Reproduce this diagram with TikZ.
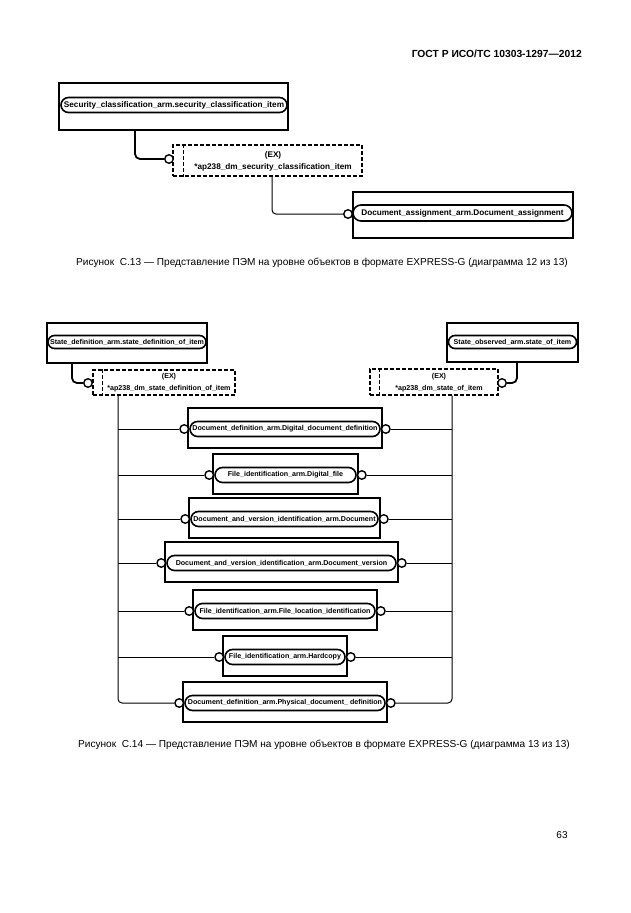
\documentclass[tikz,border=0pt]{standalone}
\usepackage{fontspec}
\setmainfont{Liberation Sans}
\usetikzlibrary{shapes.misc}
\newcommand{\fbig}{\fontsize{8.2}{9}\selectfont\bfseries}
\newcommand{\fsmall}{\fontsize{7.1}{8}\selectfont\bfseries}
\begin{document}
\begin{tikzpicture}[x=1pt,y=-1pt,
  entbox/.style={draw, line width=1.3pt, rectangle, inner sep=0pt},
  pill/.style={draw, rounded rectangle, line width=1.6pt, inner sep=1pt, fill=white},
  exbox/.style={draw, dashed, dash pattern=on 4pt off 2pt, line width=1.3pt, rectangle, inner sep=0pt},
  exline/.style={dashed, dash pattern=on 4pt off 2pt, line width=1.1pt},
  dot/.style={circle, draw, fill=white, line width=1.4pt, minimum size=8.5pt, inner sep=0pt},
  heavy/.style={line width=1.8pt, rounded corners=5pt},
  lite/.style={line width=1pt, rounded corners=4pt},
  txt/.style={inner sep=0pt},
  captext/.style={inner sep=0pt, font=\fontsize{10.1}{12}\selectfont}]
\useasboundingbox (0,0) rectangle (630,913);
\fill[white] (0,0) rectangle (630,913);

% header
\node[txt, anchor=east, font=\fontsize{10.3}{12}\selectfont\bfseries] (hdr) at (582,54) {ГОСТ Р ИСО/ТС 10303-1297—2012};

% ---------- Figure C.13 ----------
\node[entbox, minimum width=229pt, minimum height=47pt] (b1) at (173.5,106.5) {};
\node[pill, minimum width=228pt, minimum height=15pt, font=\fbig] (p1) at (174,105) {Security\_classification\_arm.security\_classification\_item};
\node[exbox, minimum width=189pt, minimum height=31pt] (e1) at (267.5,160.5) {};
\draw[exline] ([xshift=11pt]e1.north west) -- ([xshift=11pt]e1.south west);
\node[txt, font=\fbig] (e1a) at (273,155) {(EX)};
\node[txt, font=\fbig] (e1b) at (273,167) {*ap238\_dm\_security\_classification\_item};
\node[dot] (c1) at (169,159) {};
\draw[heavy] ([xshift=-38.5pt]b1.south) |- (c1.west);

\node[entbox, minimum width=220pt, minimum height=46pt] (b2) at (463,215) {};
\node[pill, minimum width=221pt, minimum height=16pt, font=\fbig] (p2) at (462.5,213) {Document\_assignment\_arm.Document\_assignment};
\node[dot] (c2) at (348,214) {};
\draw[lite] ([xshift=4.5pt]e1.south) |- (c2.west);

\node[captext] (cap13) at (322,263) {Рисунок\ \ C.13 — Представление ПЭМ на уровне объектов в формате EXPRESS-G (диаграмма 12 из 13)};

% ---------- Figure C.14 ----------
\node[entbox, minimum width=160pt, minimum height=40pt] (bL) at (127,343) {};
\node[pill, minimum width=160pt, minimum height=13pt, font=\fsmall] (pL) at (127,342) {State\_definition\_arm.state\_definition\_of\_item};
\node[exbox, minimum width=142pt, minimum height=25pt] (exL) at (164,382.5) {};
\draw[exline] ([xshift=10pt]exL.north west) -- ([xshift=10pt]exL.south west);
\node[txt, font=\fsmall] (exLa) at (169,377) {(EX)};
\node[txt, font=\fsmall] (exLb) at (169,388.5) {*ap238\_dm\_state\_definition\_of\_item};
\node[dot] (cL) at (88,383) {};
\draw[heavy] ([xshift=-55pt]bL.south) |- (cL.west);

\node[entbox, minimum width=131pt, minimum height=39pt] (bR) at (512.5,342.5) {};
\node[pill, minimum width=130pt, minimum height=13pt, font=\fsmall] (pR) at (512.5,342) {State\_observed\_arm.state\_of\_item};
\node[exbox, minimum width=128pt, minimum height=26pt] (exR) at (434,382) {};
\draw[exline] ([xshift=10pt]exR.north west) -- ([xshift=10pt]exR.south west);
\node[txt, font=\fsmall] (exRa) at (439,377) {(EX)};
\node[txt, font=\fsmall] (exRb) at (439,388.5) {*ap238\_dm\_state\_of\_item};
\node[dot] (cR) at (502,383) {};
\draw[heavy] ([xshift=4.5pt]bR.south) |- (cR.east);

\coordinate (busL) at ([xshift=-46pt]exL.south);
\coordinate (busR) at ([xshift=18pt]exR.south);

\foreach \i/\cx/\w/\y/\t in {
  1/285/194/428/{Document\_definition\_arm.Digital\_document\_definition},
  2/285.5/145/474/{File\_identification\_arm.Digital\_file},
  3/284.5/191/518/{Document\_and\_version\_identification\_arm.Document},
  4/281.5/233/562/{Document\_and\_version\_identification\_arm.Document\_version},
  5/285/184/610/{File\_identification\_arm.File\_location\_identification},
  6/285/124/656/{File\_identification\_arm.Hardcopy},
  7/285/204/702/{Document\_definition\_arm.Physical\_document\_ definition}} {
  \node[entbox, minimum width=\w pt, minimum height=40pt] (r\i) at (\cx,\y) {};
  \node[pill, minimum width=\w pt-2pt, minimum height=15pt, font=\fsmall] (p\i) at (\cx,\y+1) {\t};
  \node[dot] (lc\i) at ([xshift=-5pt]p\i.west) {};
  \node[dot] (rc\i) at ([xshift=5pt]p\i.east) {};
}
\draw[lite] (busL) |- (lc7.west);
\draw[lite] (busR) |- (rc7.east);
\foreach \i in {1,...,6} {
  \draw[lite] (lc\i.west) -- (lc\i.west -| busL);
  \draw[lite] (rc\i.east) -- (rc\i.east -| busR);
}

\node[captext] (cap14) at (324,745) {Рисунок\ \ C.14 — Представление ПЭМ на уровне объектов в формате EXPRESS-G (диаграмма 13 из 13)};

\node[txt, font=\fontsize{10}{12}\selectfont] (pg) at (562,835) {63};
\end{tikzpicture}
\end{document}
